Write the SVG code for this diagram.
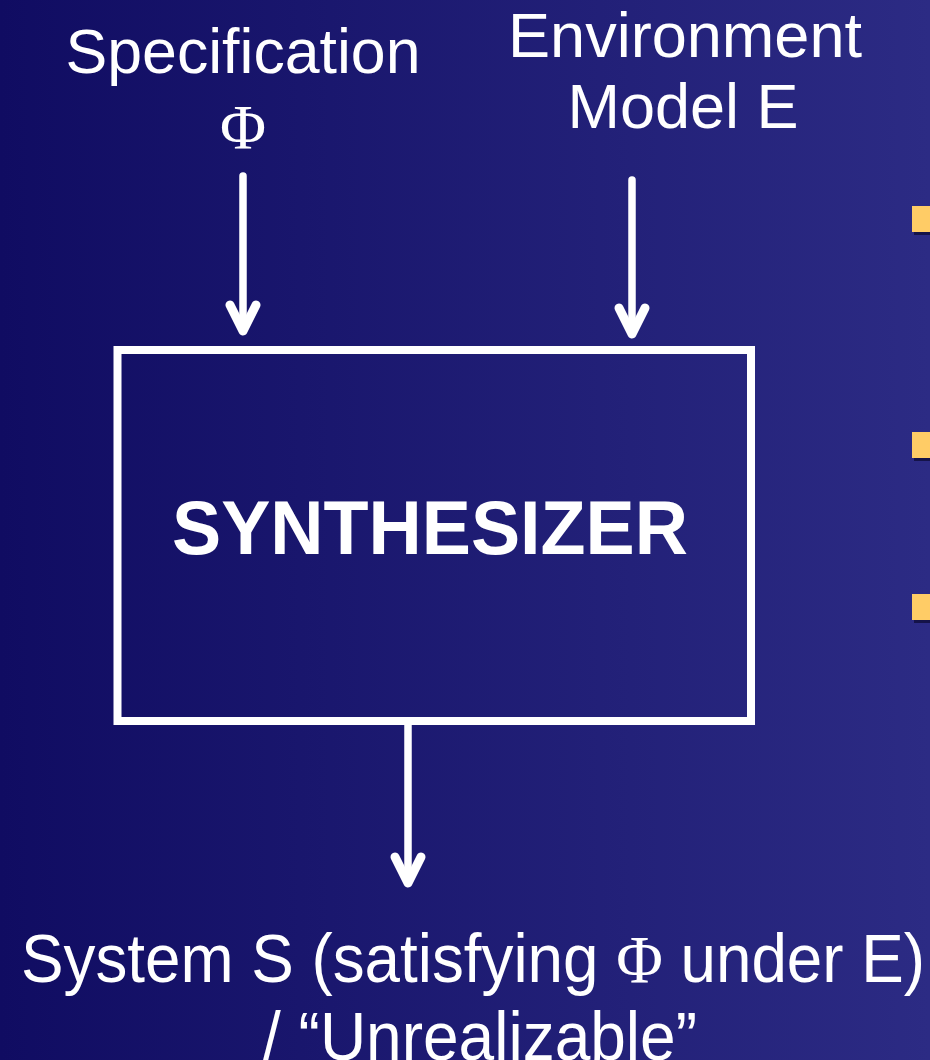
<svg xmlns="http://www.w3.org/2000/svg" width="930" height="1060" viewBox="0 0 930 1060">
  <defs>
    <linearGradient id="bg" x1="0" y1="0" x2="1" y2="0">
      <stop offset="0" stop-color="#100c62"/>
      <stop offset="1" stop-color="#2c2b84"/>
    </linearGradient>
    <style>
      .lbl { font-family: "Liberation Sans", Arial, sans-serif; font-size: 63px; fill: #ffffff; text-anchor: middle; }
      .big { font-size: 68px; }
      .sym { font-family: "Liberation Serif", "Times New Roman", serif; }
      .title { font-family: "Liberation Sans", Arial, sans-serif; font-size: 76px; font-weight: bold; fill: #ffffff; text-anchor: middle; }
      .wire { fill: none; stroke: #ffffff; stroke-width: 7.5; stroke-linecap: round; stroke-linejoin: round; }
      .head { fill: none; stroke: #ffffff; stroke-width: 9; stroke-linecap: round; stroke-linejoin: round; }
      .bullet { fill: #ffcc66; }
      .bullet-shadow { fill: #0c0a30; opacity: 0.7; }
    </style>
  </defs>

  <!-- slide background -->
  <rect x="0" y="0" width="930" height="1060" fill="url(#bg)"/>

  <!-- bullet markers at the right edge -->
  <g id="bullets">
    <rect class="bullet-shadow" x="914" y="209" width="26" height="26"/>
    <rect class="bullet" x="912" y="206" width="26" height="26"/>
    <rect class="bullet-shadow" x="914" y="435" width="26" height="26"/>
    <rect class="bullet" x="912" y="432" width="26" height="26"/>
    <rect class="bullet-shadow" x="914" y="597" width="26" height="26"/>
    <rect class="bullet" x="912" y="594" width="26" height="26"/>
  </g>

  <!-- input: specification -->
  <g id="spec">
    <text class="lbl" x="243" y="73" textLength="355" lengthAdjust="spacingAndGlyphs">Specification</text>
    <text class="lbl sym" x="243" y="149">Φ</text>
  </g>

  <!-- input: environment model -->
  <g id="env">
    <text class="lbl" x="685" y="57" textLength="354" lengthAdjust="spacingAndGlyphs">Environment</text>
    <text class="lbl" x="683" y="128">Model E</text>
  </g>

  <!-- synthesizer block -->
  <g id="synth">
    <rect x="117.5" y="350" width="633.5" height="371" fill="none" stroke="#ffffff" stroke-width="8"/>
    <text class="title" x="430" y="554" textLength="516" lengthAdjust="spacingAndGlyphs">SYNTHESIZER</text>
  </g>

  <!-- output -->
  <g id="output">
    <text class="lbl big" x="473" y="982" textLength="904" lengthAdjust="spacingAndGlyphs">System S (satisfying <tspan class="sym">Φ</tspan> under E)</text>
    <text class="lbl big" x="480" y="1060" textLength="434" lengthAdjust="spacingAndGlyphs">/ “Unrealizable”</text>
  </g>

  <!-- connectors -->
  <g id="connectors">
    <line class="wire" x1="243" y1="176" x2="243" y2="330"/>
    <polyline class="head" points="230,305 243,331 256,305"/>
    <line class="wire" x1="632" y1="180" x2="632" y2="333"/>
    <polyline class="head" points="619,308 632,334 645,308"/>
    <line class="wire" x1="408" y1="725" x2="408" y2="882"/>
    <polyline class="head" points="395,857 408,883 421,857"/>
  </g>
</svg>
